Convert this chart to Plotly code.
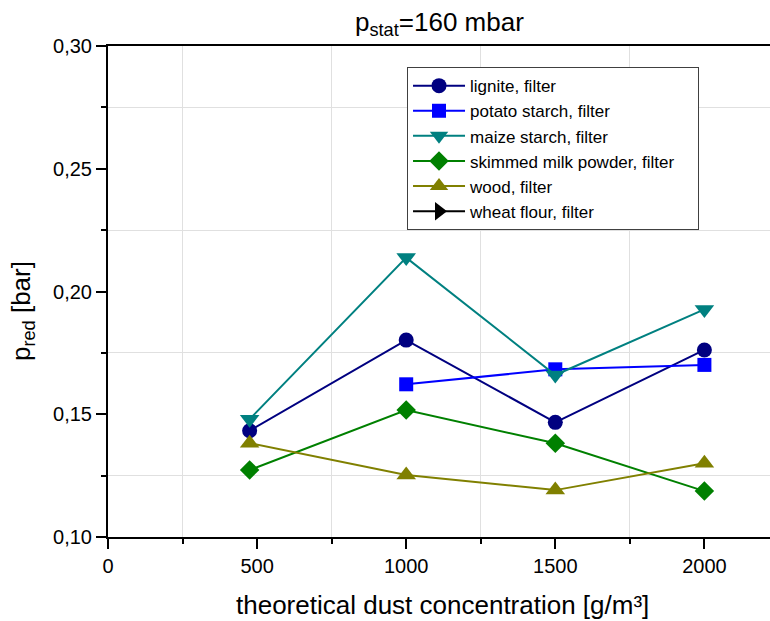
import plotly.graph_objects as go

x_conc = [475, 1000, 1500, 2000]

lignite = [0.1433, 0.1802, 0.1467, 0.1762]
potato_x = [1000, 1500, 2000]
potato = [0.1622, 0.1683, 0.1701]
maize = [0.148, 0.2138, 0.166, 0.1927]
milk = [0.1273, 0.1517, 0.1382, 0.1187]
wood = [0.1382, 0.1253, 0.1191, 0.130]

FONT = "Arial, Liberation Sans, sans-serif"

fig = go.Figure()

def add(name, x, y, color, symbol, size):
    fig.add_trace(go.Scatter(
        x=x, y=y, name=name, mode="lines+markers",
        line=dict(color=color, width=2),
        marker=dict(color=color, symbol=symbol, size=size, line=dict(width=0)),
    ))

add("lignite, filter", x_conc, lignite, "#000080", "circle", 15)
add("potato starch, filter", potato_x, potato, "#0000FF", "square", 14)
add("maize starch, filter", x_conc, maize, "#008080", "triangle-down", 17)
add("skimmed milk powder, filter\u00a0\u00a0\u00a0\u00a0", x_conc, milk, "#008000", "diamond", 15)
add("wood, filter", x_conc, wood, "#808000", "triangle-up", 17)
add("wheat flour, filter", [None], [None], "#000000", "triangle-right", 17)

fig.update_layout(
    width=770, height=621,
    margin=dict(l=108, r=0, t=46, b=84),
    paper_bgcolor="white", plot_bgcolor="white",
    font=dict(family=FONT, color="black", size=20),
    separators=", ",
    showlegend=True,
    legend=dict(
        x=0.4517, y=0.957, xanchor="left", yanchor="top",
        bgcolor="white", bordercolor="#404040", borderwidth=1,
        font=dict(size=17, family=FONT),
        tracegroupgap=0, itemwidth=52,
    ),
    xaxis=dict(
        range=[0, 2220], tickmode="linear", tick0=0, dtick=500,
        showline=True, linecolor="black", linewidth=2, mirror=True,
        ticks="outside", ticklen=10, tickwidth=2, tickcolor="black",
        showgrid=False, zeroline=False,
        tickfont=dict(size=20),
        minor=dict(dtick=250, tick0=0, ticks="outside", ticklen=5, tickwidth=2,
                   tickcolor="black", showgrid=True, gridcolor="#e0e0e0", gridwidth=1),
    ),
    yaxis=dict(
        range=[0.10, 0.30], tickmode="linear", tick0=0.10, dtick=0.05,
        tickformat=".2f",
        showline=True, linecolor="black", linewidth=2, mirror=False,
        ticks="outside", ticklen=10, tickwidth=2, tickcolor="black",
        showgrid=False, zeroline=False,
        tickfont=dict(size=20),
        minor=dict(dtick=0.025, tick0=0.10, ticks="outside", ticklen=5, tickwidth=2,
                   tickcolor="black", showgrid=True, gridcolor="#e0e0e0", gridwidth=1),
    ),
    annotations=[
        dict(text="p<sub>stat</sub>=160 mbar", xref="paper", yref="paper",
             x=0.5, y=1.045, xanchor="center", yanchor="middle",
             showarrow=False, font=dict(size=26)),
        dict(text="theoretical dust concentration [g/m³]", xref="paper", yref="paper",
             x=0.506, y=-0.1385, xanchor="center", yanchor="middle",
             showarrow=False, font=dict(size=26)),
        dict(text="p<sub>red</sub> [bar]", xref="paper", yref="paper",
             x=-0.13, y=0.46, xanchor="center", yanchor="middle", textangle=-90,
             showarrow=False, font=dict(size=26)),
    ],
)

fig.write_html("out.html")
